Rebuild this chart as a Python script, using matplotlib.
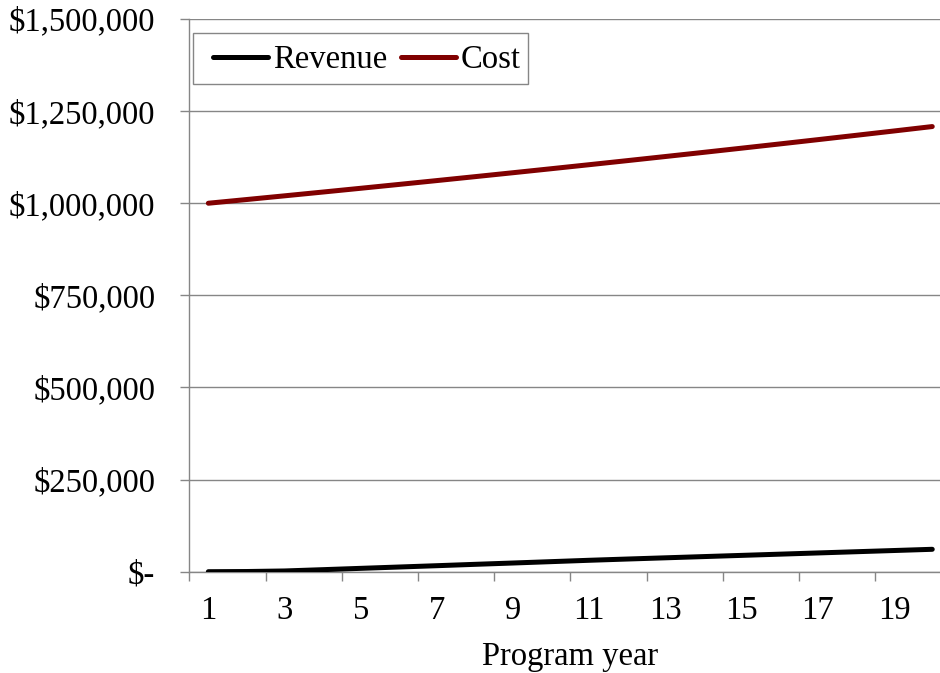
import matplotlib
matplotlib.use("Agg")
import matplotlib.pyplot as plt
from matplotlib.patches import Rectangle
from matplotlib.ticker import FixedLocator, FuncFormatter, NullFormatter

# Program years 1..20
years = list(range(1, 21))

# Annual revenue and cost ($)
revenue = [0, 500, 2000, 5500, 9100, 12700, 16300, 20000, 23600, 27300,
           31000, 34400, 37700, 41000, 44300, 47600, 50900, 54200, 57500, 60800]
cost = [1000000, 1010000, 1020100, 1030301, 1040604, 1051010, 1061520, 1072135,
        1082857, 1093685, 1104622, 1115668, 1126825, 1138093, 1149474, 1160969,
        1172579, 1184304, 1196147, 1208109]

y_ticks = [0, 250000, 500000, 750000, 1000000, 1250000, 1500000]
x_label_years = [1, 3, 5, 7, 9, 11, 13, 15, 17, 19]

plt.rcParams['font.family'] = ['Liberation Serif', 'DejaVu Serif']

W, H = 940, 673
fig = plt.figure(figsize=(W / 100, H / 100), dpi=100)
left, right = 189.3, 951.3
top, bottom = 19.0, 571.7
ax = fig.add_axes([left / W, 1 - bottom / H, (right - left) / W, (bottom - top) / H])

grid_color = '#868686'
fs = 23.5

ax.plot(years, revenue, color='black', lw=3.6, solid_capstyle='round', label='Revenue', zorder=3)
ax.plot(years, cost, color='#800000', lw=3.6, solid_capstyle='round', label='Cost', zorder=3)

ax.set_xlim(0.5, 20.5)
ax.set_ylim(0, 1500000)

# y axis: gridlines and accounting-style labels
ax.set_yticks(y_ticks)
def money(v, pos):
    return '$-' if v == 0 else '${:,.0f}'.format(v)
ax.yaxis.set_major_formatter(FuncFormatter(money))
ax.yaxis.grid(True, color=grid_color, lw=1.0)
ax.set_axisbelow(True)

# x axis: tick marks between every second category, labels on odd years
ax.xaxis.set_major_locator(FixedLocator([0.5 + 2 * i for i in range(11)]))
ax.xaxis.set_major_formatter(NullFormatter())
ax.xaxis.set_minor_locator(FixedLocator(x_label_years))
ax.xaxis.set_minor_formatter(FuncFormatter(lambda v, p: str(int(v))))
ax.tick_params(axis='x', which='major', length=6.5, width=1, color=grid_color, direction='out')
ax.tick_params(axis='x', which='minor', length=0, pad=17, labelsize=fs)
ax.tick_params(axis='y', length=6.5, width=1, color=grid_color, pad=18, labelsize=fs)

for s in ['top', 'right']:
    ax.spines[s].set_visible(False)
for s in ['left', 'bottom']:
    ax.spines[s].set_color(grid_color)
    ax.spines[s].set_linewidth(1.0)

ax.set_xlabel('Program year', fontsize=fs, labelpad=11)

# Legend frame drawn as its own box, entries placed inside it
ax.add_patch(Rectangle((193 / W, 1 - 84 / H), (528 - 193) / W, (84 - 33) / H,
                       transform=fig.transFigure, facecolor='white',
                       edgecolor=grid_color, lw=1.0, zorder=4, clip_on=False))
leg = ax.legend(loc='upper left', ncol=2, fontsize=fs, frameon=False,
                handlelength=1.7, handletextpad=0.15, columnspacing=0.4,
                borderpad=0.0, borderaxespad=0.0,
                bbox_to_anchor=(213 / W, 1 - 45 / H), bbox_transform=fig.transFigure)
leg.set_zorder(5)

fig.savefig('out.png', dpi=100)
